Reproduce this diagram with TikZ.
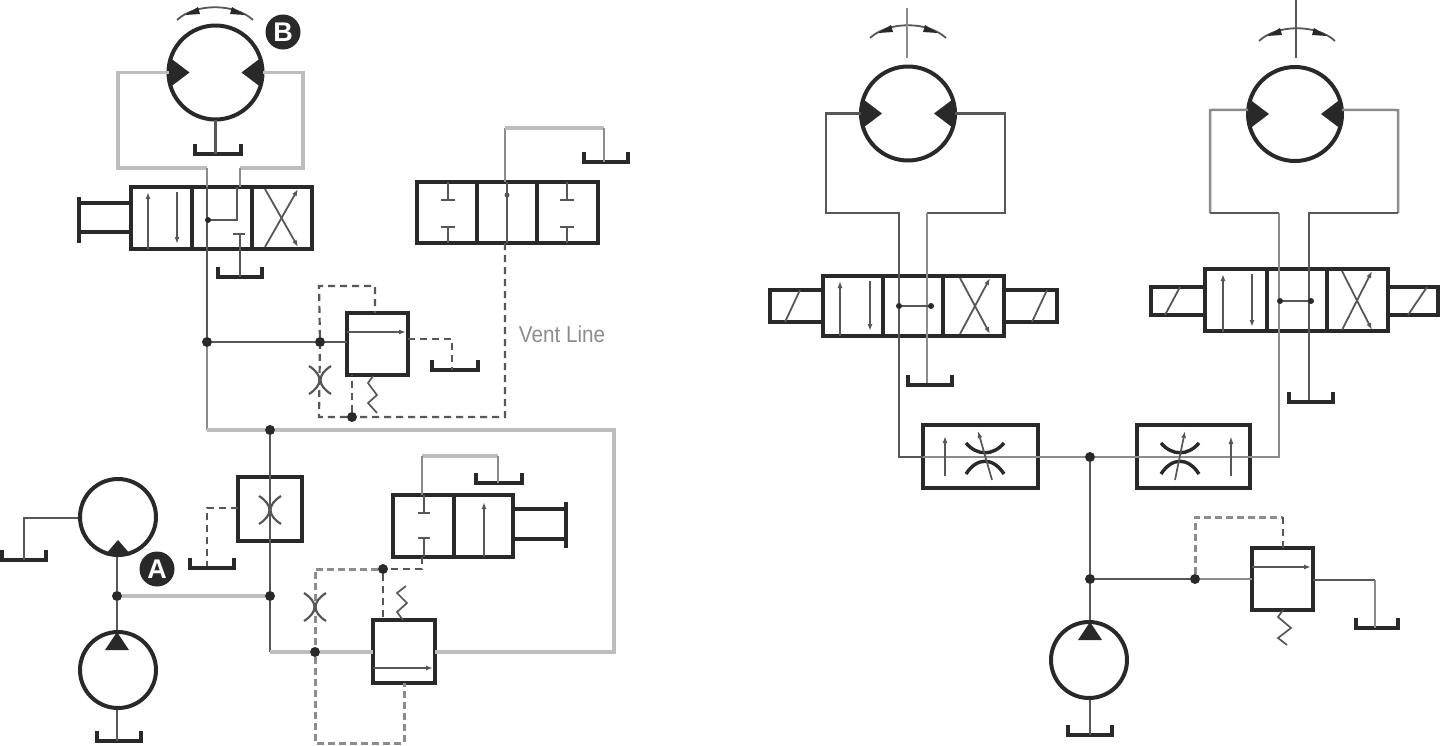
\documentclass[tikz,border=0pt]{standalone}
\usepackage{fontspec}
\setmainfont{Liberation Sans}
\usetikzlibrary{arrows.meta}
\definecolor{ink}{gray}{0.16}
\definecolor{pipedark}{gray}{0.34}
\definecolor{pipemid}{gray}{0.55}
\definecolor{pipelight}{gray}{0.74}
\tikzset{
  x=1pt,y=-1pt,
  pipe/.style={draw=pipedark,line width=2.2pt},
  pipem/.style={draw=pipemid,line width=2.5pt},
  pipel/.style={draw=pipelight,line width=3.2pt},
  dashd/.style={draw=pipedark,line width=2.2pt,dash pattern=on 7pt off 5pt},
  dashl/.style={draw=pipemid,line width=3pt,dash pattern=on 7pt off 4pt},
  vbox/.style={draw=ink,line width=4.6pt,rectangle,inner sep=0pt,outer sep=0pt,anchor=north west},
  divider/.style={draw=ink,line width=4.2pt},
  round motor/.style={draw=ink,line width=4pt,circle,inner sep=0pt,outer sep=0pt},
  junction/.style={fill=ink,circle,inner sep=0pt,minimum size=10pt},
  tankline/.style={draw=ink,line width=3.8pt},
  inner arrow/.style={draw=pipedark,line width=1.7pt,-{Latex[length=7pt,width=5pt]}},
  tbar/.style={draw=pipedark,line width=2pt},
  orif/.style={draw=pipedark,line width=2.2pt},
  spring/.style={draw=pipedark,line width=1.7pt,line join=miter},
  badge/.style={circle,fill=ink,text=white,inner sep=0pt,minimum size=35pt,font=\bfseries\fontsize{27}{27}\selectfont},
  rodline/.style={draw=ink,line width=3.6pt},
}
\newcommand{\boxnode}[5]{\node[vbox,minimum width=#4pt,minimum height=#5pt] (#1) at (#2,#3) {};}
\newcommand{\tankat}[4]{\coordinate (#1) at (#2,#3);
  \draw[tankline] ({#2-#4},{#3-10}) -- ({#2-#4},#3) -- ({#2+#4},#3) -- ({#2+#4},{#3-10});}
\newcommand{\motorat}[3]{\node[round motor,minimum size=94pt] (#1) at (#2,#3) {};
  \begin{scope}[shift={(#2,#3)}]
   \fill[ink] (-44.5,-14) -- (-26,0) -- (-44.5,14) -- (-47,0) -- cycle;
   \fill[ink] (44.5,-14) -- (26,0) -- (44.5,14) -- (47,0) -- cycle;
  \end{scope}}
\newcommand{\swing}[2]{\begin{scope}[shift={(#1,#2)}]
   \draw[pipedark,line width=1.8pt] (-38,0) .. controls (-20,-17) and (20,-17) .. (38,0);
   \fill[ink] (-30,-5) -- (-17,-13) -- (-15,-6) -- cycle;
   \fill[ink] (30,-5) -- (17,-13) -- (15,-6) -- cycle;
  \end{scope}}
\newcommand{\orifice}[2]{\begin{scope}[shift={(#1,#2)}]
   \draw[orif] (-11,-14) .. controls (3,-5) and (3,5) .. (-11,14);
   \draw[orif] (11,-14) .. controls (-3,-5) and (-3,5) .. (11,14);
  \end{scope}}
\newcommand{\flowctl}[3]{\begin{scope}[shift={(#1,#2)}]
   \draw[ink,line width=3.4pt] (-19,-14) .. controls (-8,-1) and (8,-1) .. (19,-14);
   \draw[ink,line width=3.4pt] (-19,17) .. controls (-8,0) and (8,0) .. (19,17);
   \draw[pipedark,line width=1.7pt,-{Latex[length=7pt,width=5pt]}] (#3,23) -- ({-(#3)},-26);
  \end{scope}}
\newcommand{\xcell}[4]{\draw[pipedark,line width=1.8pt,-{Latex[length=7pt,width=5pt]}] (#1,#4) -- (#2,#3);
  \draw[pipedark,line width=1.8pt,-{Latex[length=7pt,width=5pt]}] (#1,#3) -- (#2,#4);}
\begin{document}
\begin{tikzpicture}
\useasboundingbox (0,0) rectangle (1440,745);

% ---------- named parts
\node[junction] (jA) at (207,342) {};
\node[junction] (jB) at (320,342) {};
\node[junction] (jC) at (352,417) {};
\node[junction] (jD) at (270,430) {};
\node[junction] (jE) at (270,596) {};
\node[junction] (jF) at (117,596) {};
\node[junction] (jG) at (315,652) {};
\node[junction] (jH) at (383,569) {};
\node[junction] (jI) at (1090,457) {};
\node[junction] (jJ) at (1090,579) {};
\node[junction] (jK) at (1195,579) {};

% ---------- left circuit pipes
\motorat{mB}{215.5}{72.5}
\swing{215}{20}
\boxnode{vOne}{131}{187}{181}{62}
\boxnode{vTwo}{417}{182}{181}{61}
\boxnode{rvOne}{347}{313}{61}{62}
\boxnode{orbox}{238}{477}{64}{64}
\boxnode{vThree}{393}{495}{120}{62}
\boxnode{rvTwo}{373}{620}{62}{63}
\tankat{tB}{218}{154}{23}
\tankat{tOne}{240}{277}{22}
\tankat{tTwo}{606}{162}{22}
\tankat{tThree}{455}{370}{23}
\tankat{tFour}{212}{568}{22}
\tankat{tFive}{24}{560}{22}
\tankat{tSix}{499}{483}{23}
\tankat{tSeven}{119}{741}{22}

\draw[pipe] (mB.south) -- (tB -| mB.south);
\draw[pipel] (mB.west) -- (118,72.5) -- (118,168) -- (207,168);
\draw[pipel] (mB.east) -- (303,72.5) -- (303,168) -- (240,168);
\draw[pipem] (207,168) -- (207,187);
\draw[pipem] (240,168) -- (240,187);
\draw[pipe] (207,187) -- (jA);
\draw[pipe] (jA) -- (jB) -- (rvOne.west |- jB);
\draw[pipem] (jA) -- (207,430);
\draw[pipel] (207,430) -- (jD) -- (614,430) -- (614,652) -- (rvTwo.east |- 614,652);
\draw[pipe] (jD) -- (orbox.north);
\draw[pipe] (orbox.north) -- (orbox.south) -- (jE) -- (270,652);
\draw[pipel] (270,652) -- (jG) -- (rvTwo.west |- jG);
\draw[pipel] (jF) -- (jE);
\draw[pipe] (jF) -- (117,557);
\draw[pipe] (jF) -- (117,632);
\draw[pipe] (117,708) -- (tSeven -| 117,708);
\draw[pipe] (80,518) -- (24,518) -- (tFive);
\draw[dashd] (238,508) -- (207,508) -- (207,566);
% top-middle valve return
\draw[pipem] (505,182) -- (505,128);
\draw[pipel] (505,128) -- (604,128);
\draw[pipem] (604,128) -- (604,162);
\draw[pipe] (507,182) -- (507,243);
\fill[pipedark] (507,195) circle (2.5);
% vent and pilot lines
\draw[dashd] (505,243) -- (505,417) -- (jC) -- (319,417) -- (jB) -- (319,286) -- (375,286) -- (375,313);
\draw[dashd] (jC) -- (352,375);
\draw[dashd] (408,339) -- (452,339) -- (452,370);
\draw[pipel] (422,456) -- (498,456);
\draw[pipem] (422,495) -- (422,456);
\draw[pipem] (498,456) -- (498,483);
\draw[dashd] (422,557) -- (422,569) -- (jH);
\draw[dashl] (jH) -- (315,569) -- (jG) -- (315,743) -- (404,743) -- (404,683);
\draw[dashd] (jH) -- (383,620);

% inside valve one
\draw[inner arrow] (148,249) -- (148,192);
\draw[inner arrow] (177,192) -- (177,244);
\draw[divider] (192,187) -- (192,249);
\draw[divider] (252,187) -- (252,249);
\draw[pipe] (208,220) -- (237,220) -- (237,187);
\fill[ink] (208,220) circle (3);
\draw[tbar] (240,234) -- (tOne -| 240,234);
\draw[tbar] (233,234) -- (245,234);
\xcell{265}{298}{189}{247}
\draw[rodline] (131,203) -- (79,203);
\draw[rodline] (131,232) -- (79,232);
\draw[draw=ink,line width=4pt] (79,197) -- (79,243);

% inside valve two
\draw[divider] (477,182) -- (477,243);
\draw[divider] (537,182) -- (537,243);
\foreach \vx in {448,567}{
  \draw[tbar] (\vx,182) -- (\vx,200);
  \draw[tbar] ({\vx-7},200) -- ({\vx+7},200);
  \draw[tbar] (\vx,243) -- (\vx,227);
  \draw[tbar] ({\vx-7},227) -- ({\vx+7},227);
}

% relief valve one
\draw[inner arrow] (347,332) -- (406,332);
\draw[spring] (373,376) -- (368,383) -- (377,395) -- (368,403) -- (377,413);
\orifice{320}{380}

% orifice box
\orifice{270}{510}

% valve three
\draw[divider] (454,495) -- (454,557);
\draw[tbar] (424,495) -- (424,513);
\draw[tbar] (418,513) -- (430,513);
\draw[tbar] (424,557) -- (424,538);
\draw[tbar] (418,538) -- (430,538);
\draw[inner arrow] (484,557) -- (484,502);
\draw[rodline] (513,509) -- (566,509);
\draw[rodline] (513,539) -- (566,539);
\draw[draw=ink,line width=4pt] (566,502) -- (566,548);

% relief valve two
\draw[inner arrow] (373,668) -- (433,668);
\draw[spring] (403,620) -- (397,612) -- (407,603) -- (397,593) -- (406,586);
\orifice{315}{607}

% motor A and pump
\node[round motor,minimum size=76pt] (mA) at (118,517) {};
\fill[ink] (118,540) -- (105,555) -- (118,557) -- (131,555) -- cycle;
\node[round motor,minimum size=76pt] (pA) at (118,670) {};
\fill[ink] (117,632) -- (105,650) -- (129,650) -- cycle;

\node[badge] (bB) at (283,32) {B};
\node[badge] (bA) at (157,569) {A};
\node[text=pipemid,font=\fontsize{23}{23}\selectfont] (vent) at (562,334) {\scalebox{0.9}[1]{Vent Line}};

% ---------- right circuit
\motorat{mC}{908}{113.5}
\motorat{mD}{1295}{114}
\swing{908}{38}
\swing{1297}{41}
\draw[pipem] (907,8) -- (907,58);
\draw[pipedark,line width=2.4pt] (1296,0) -- (1296,58);
\boxnode{vFour}{823}{276}{181}{60}
\boxnode{vFive}{1205}{269}{183}{62}
\boxnode{solA}{770}{290}{53}{32}
\boxnode{solB}{1004}{290}{53}{32}
\boxnode{solC}{1151}{287}{54}{28}
\boxnode{solD}{1388}{287}{50}{28}
\boxnode{fcA}{923}{425}{115}{63}
\boxnode{fcB}{1137}{425}{113}{63}
\boxnode{rvThree}{1252}{548}{61}{62}
\tankat{tEight}{930}{385}{22}
\tankat{tNine}{1311}{402}{22}
\tankat{tTen}{1090}{735}{22}
\tankat{tEleven}{1377}{628}{21}

\draw[pipe] (mC.west) -- (826,113.5) -- (826,213) -- (899,213) -- (899,457) -- (fcA.west |- 899,457);
\draw[pipe] (mC.east) -- (1005,113.5) -- (1005,213) -- (927,213);
\draw[pipem] (927,213) -- (927,383);
\draw[pipem] (mD.175) -- (1210,110) -- (1210,213);
\draw[pipe] (1210,213) -- (1279,213);
\draw[pipem] (1279,213) -- (1279,457) -- (fcB.east |- 1279,457);
\draw[pipem] (mD.5) -- (1398,110) -- (1398,213);
\draw[pipe] (1398,213) -- (1309,213) -- (1309,400);
\draw[pipem] (fcA.west |- jI) -- (fcA.east |- jI) -- (jI) -- (fcB.west |- jI) -- (fcB.east |- jI);
\draw[pipe] (jI) -- (jJ) -- (1090,622);
\draw[pipe] (jJ) -- (jK);
\draw[pipem] (jK) -- (rvThree.west |- jK);
\draw[pipe] (rvThree.east |- 1313,580) -- (1375,580);
\draw[pipem] (1375,580) -- (tEleven -| 1375,580);
\draw[pipe] (1090,698) -- (tTen);
\draw[dashl] (jK) -- (1195,517) -- (1283,517);
\draw[dashd] (1283,517) -- (1283,548);
\draw[spring] (1283,610) -- (1278,617) -- (1291,628) -- (1278,638) -- (1287,645);

\node[round motor,minimum size=76pt] (pB) at (1089,660) {};
\fill[ink] (1090,622) -- (1078,640) -- (1102,640) -- cycle;

% right valves internals
\draw[divider] (883,276) -- (883,336);
\draw[divider] (943,276) -- (943,336);
\draw[inner arrow] (840,336) -- (840,281);
\draw[inner arrow] (870,281) -- (870,331);
\draw[pipe] (899,306) -- (931,306);
\fill[ink] (899,306) circle (3);
\fill[ink] (931,306) circle (3);
\xcell{960}{990}{278}{334}
\draw[pipedark,line width=1.8pt] (785,322) -- (800,290);
\draw[pipedark,line width=1.8pt] (1032,322) -- (1047,290);

\draw[divider] (1267,269) -- (1267,332);
\draw[divider] (1327,269) -- (1327,332);
\draw[inner arrow] (1223,332) -- (1223,274);
\draw[inner arrow] (1252,274) -- (1252,327);
\draw[pipe] (1280,301) -- (1311,301);
\fill[ink] (1280,301) circle (3);
\fill[ink] (1311,301) circle (3);
\xcell{1342}{1372}{271}{330}
\draw[pipedark,line width=1.8pt] (1165,315) -- (1180,287);
\draw[pipedark,line width=1.8pt] (1408,315) -- (1427,287);

% flow controls
\flowctl{985}{457}{7}
\flowctl{1180}{457}{-5}
\draw[inner arrow] (945,476) -- (945,436);
\draw[draw=pipedark,line width=1.8pt,-{Latex[length=8pt,width=5pt]}] (1231,476) -- (1231,436);

% relief valve three
\draw[inner arrow] (1252,567) -- (1311,567);
\end{tikzpicture}
\end{document}
